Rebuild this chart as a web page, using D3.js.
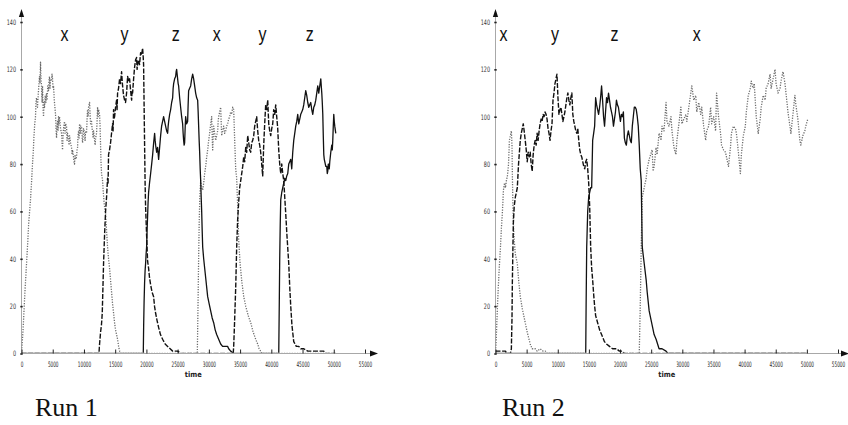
<!DOCTYPE html>
<html>
<head>
<meta charset="utf-8">
<script src="https://cdn.jsdelivr.net/npm/d3@7"></script>
<style>
  body { margin: 0; background: #fff; }
  svg { display: block; }
</style>
</head>
<body>
<svg id="chart" width="848" height="425"></svg>
<script>
// ---- axis ticks ----
const timeTicks = [0, 5000, 10000, 15000, 20000, 25000, 30000, 35000, 40000, 45000, 50000, 55000];
const countTicks = [0, 20, 40, 60, 80, 100, 120, 140];

// ---- phase labels (which species dominates), placed at a time ----
const run1PhaseNames = ["x", "y", "z", "x", "y", "z"];
const run1PhaseTimes = [6900, 16500, 24700, 31250, 38600, 46150];
const run2PhaseNames = ["x", "y", "z", "x"];
const run2PhaseTimes = [1270, 9550, 19100, 32300];

// ---- Run 1: population counts [time, count] ----
const run1X = [[0,0],[100,4],[250,10],[400,18],[550,26],[700,33],[850,40],[1000,47],[1150,55],[1300,60],[1440,65],[1600,72],[1760,80],[1900,86],[2000,92],[2120,97],[2240,100],[2320,106],[2400,108],[2560,104],[2720,111],[2880,117],[2960,114],[3045,123],[3120,116],[3200,113],[3300,106],[3365,113],[3450,104],[3525,100],[3600,106],[3685,104],[3800,109],[3900,106],[4005,110],[4100,107],[4200,113],[4325,111],[4400,115],[4485,117],[4560,112],[4650,116],[4810,115],[4890,118],[4970,116],[5050,112],[5130,113],[5250,107],[5350,104],[5450,101],[5530,95],[5610,91],[5690,96],[5770,98],[5850,94],[5930,100],[6010,97],[6090,100],[6250,95],[6410,93],[6490,89],[6570,86],[6650,92],[6730,95],[6890,98],[6970,93],[7050,97],[7210,96],[7300,90],[7370,93],[7530,91],[7620,88],[7700,92],[7850,89],[8010,87],[8100,84],[8170,86],[8330,83],[8400,81],[8490,80],[8570,84],[8650,82],[8810,83],[8900,86],[8975,87],[9050,92],[9135,94],[9215,91],[9295,97],[9400,93],[9455,96],[9615,96],[9700,92],[9775,89],[9850,91],[9930,95],[10095,93],[10180,90],[10250,94],[10415,93],[10500,99],[10575,103],[10650,100],[10740,104],[10900,106],[10980,101],[11060,97],[11220,98],[11300,95],[11380,94],[11460,91],[11540,94],[11700,90],[11800,88],[11860,91],[12020,93],[12100,98],[12180,104],[12260,100],[12340,103],[12500,101],[12580,96],[12660,88],[12740,80],[12820,76],[12980,73],[13100,68],[13220,64],[13340,61],[13460,59],[13620,52],[13780,45],[13940,40],[14100,36],[14260,31],[14420,26],[14580,21],[14745,17],[14900,13],[15060,10],[15220,8],[15385,6],[15550,3],[15705,1],[15900,0],
  [28150,0],[28250,18],[28350,38],[28450,55],[28550,66],[28690,73],[28850,70],[29010,69],[29170,72],[29330,76],[29490,79],[29650,83],[29810,86],[29970,90],[30130,93],[30290,97],[30450,100],[30530,92],[30610,86],[30690,91],[30770,96],[30930,93],[31090,90],[31250,92],[31410,94],[31490,98],[31570,100],[31730,102],[31890,104],[31970,98],[32050,92],[32210,94],[32370,96],[32530,93],[32690,94],[32850,96],[33010,97],[33170,99],[33330,100],[33490,102],[33650,101],[33815,104],[33975,103],[34135,90],[34295,78],[34455,74],[34615,62],[34775,48],[35000,38],[35250,31],[35580,24],[35900,20],[36300,16],[36700,13],[37100,9],[37500,6],[37820,4],[38050,2],[38300,1],[38500,0],[50300,0]];

const run1Y = [[0,0],[12400,0],[12500,4],[12660,9],[12800,12],[12930,17],[13040,28],[13140,38],[13300,50],[13460,60],[13620,66],[13780,74],[13860,72],[13940,84],[14100,86],[14260,89],[14420,93],[14580,97],[14660,94],[14745,103],[14820,99],[14905,100],[15060,104],[15225,107],[15300,103],[15385,110],[15540,112],[15705,116],[15860,114],[16025,119],[16100,116],[16185,113],[16340,109],[16505,107],[16660,106],[16825,110],[16990,117],[17150,115],[17310,116],[17470,111],[17630,107],[17710,111],[17790,110],[17950,116],[18110,121],[18270,124],[18430,125],[18510,120],[18590,122],[18750,124],[18900,122],[19070,127],[19230,126],[19390,129],[19470,126],[19550,122],[19630,105],[19710,88],[19790,72],[19870,62],[20030,50],[20190,39],[20350,36],[20500,32],[20675,29],[20900,26],[21155,24],[21300,20],[21475,17],[21700,14],[21955,11],[22250,8],[22595,6],[23000,4],[23400,3],[23800,2],[24200,1],[25000,1],[25500,0],
  [33900,0],[33975,3],[34100,12],[34300,28],[34455,45],[34600,56],[34775,64],[34935,70],[35100,73],[35260,76],[35420,79],[35580,83],[35740,81],[35900,87],[36060,85],[36220,92],[36380,89],[36540,86],[36700,85],[36860,89],[37020,90],[37180,92],[37340,96],[37500,98],[37660,100],[37820,94],[37980,90],[38140,88],[38300,85],[38460,80],[38620,75],[38780,88],[38940,97],[39100,105],[39260,103],[39425,107],[39585,97],[39745,94],[39905,92],[40065,95],[40225,97],[40385,103],[40545,101],[40705,105],[40865,100],[41025,95],[41185,86],[41345,80],[41510,76],[41670,80],[41830,76],[41990,73],[42150,66],[42310,59],[42500,50],[42790,38],[42950,28],[43110,20],[43300,12],[43590,5],[44000,3],[44390,3],[44710,2],[45200,2],[45835,1],[46500,1],[47115,1],[47800,1],[48400,1],[48720,0],[50300,0]];

const run1Z = [[0,0],[19500,0],[19560,12],[19630,22],[19710,30],[19790,35],[19870,38],[19950,42],[20030,45],[20110,52],[20190,58],[20270,64],[20350,68],[20500,72],[20675,76],[20840,80],[21000,84],[21160,89],[21315,93],[21400,90],[21475,88],[21640,85],[21795,87],[21955,82],[22115,87],[22275,92],[22435,96],[22595,98],[22755,100],[22915,98],[23075,96],[23240,94],[23400,93],[23480,96],[23560,98],[23720,101],[23880,103],[24040,106],[24200,108],[24280,112],[24360,114],[24520,116],[24680,117],[24760,119],[24840,120],[24920,118],[25000,116],[25080,114],[25160,113],[25320,108],[25480,104],[25640,100],[25800,97],[25880,93],[25960,90],[26040,88],[26120,89],[26200,95],[26280,100],[26440,97],[26600,98],[26680,105],[26760,111],[26920,112],[27085,113],[27245,116],[27405,118],[27485,117],[27565,116],[27725,113],[27885,110],[28045,108],[28205,107],[28285,102],[28365,96],[28445,90],[28525,85],[28610,78],[28690,73],[28770,66],[28850,60],[28930,52],[29010,45],[29170,40],[29330,36],[29570,30],[29810,24],[30050,21],[30290,18],[30530,15],[30770,13],[31010,10],[31250,8],[31570,6],[31890,4],[32200,3],[32690,3],[33000,3],[33175,2],[33495,1],[33975,0],
  [41190,0],[41270,20],[41345,40],[41430,55],[41510,65],[41670,68],[41830,70],[41990,72],[42150,74],[42310,73],[42470,75],[42630,76],[42790,80],[42950,81],[43110,82],[43270,78],[43430,85],[43590,90],[43750,93],[43910,96],[44070,98],[44230,101],[44390,97],[44550,99],[44710,101],[44870,102],[45030,103],[45190,105],[45350,108],[45510,111],[45670,109],[45835,106],[45995,104],[46155,105],[46315,106],[46475,103],[46635,101],[46795,104],[46955,105],[47115,107],[47275,110],[47435,113],[47595,110],[47760,113],[47920,116],[48000,113],[48080,110],[48160,106],[48240,101],[48320,92],[48400,84],[48480,82],[48560,81],[48720,79],[48880,79],[48960,76],[49040,77],[49120,80],[49200,80],[49280,78],[49360,81],[49520,85],[49680,88],[49760,86],[49840,90],[49920,96],[50000,101],[50080,98],[50160,96],[50320,93]];

// ---- Run 2: population counts [time, count] ----
const run2X = [[0,0],[100,5],[200,12],[318,20],[450,28],[600,36],[796,45],[950,53],[1114,60],[1274,69],[1450,72],[1600,70],[1750,73],[1910,75],[2070,79],[2150,84],[2230,90],[2390,92],[2547,94],[2650,88],[2706,76],[2800,62],[2866,55],[3000,48],[3184,42],[3502,38],[3750,30],[3980,24],[4298,19],[4776,13],[5094,9],[5572,4],[5890,2],[6368,2],[6686,1],[7164,2],[7642,1],[8000,1],[8300,0],
  [23084,0],[23243,20],[23402,45],[23562,66],[23880,70],[24198,74],[24357,78],[24676,82],[25154,86],[25313,77],[25472,79],[25790,87],[25950,84],[26268,93],[26586,90],[26746,96],[27064,94],[27382,106],[27542,98],[27860,96],[28178,100],[28338,94],[28656,87],[28974,84],[29134,90],[29452,97],[29770,104],[29930,97],[30248,99],[30566,101],[30726,98],[31044,104],[31362,110],[31522,113],[31840,107],[32158,109],[32318,102],[32636,106],[32954,101],[33114,104],[33432,96],[33750,90],[33910,94],[34228,96],[34546,104],[34706,97],[35024,100],[35342,94],[35502,110],[35820,100],[36138,93],[36298,88],[36616,86],[36934,85],[37412,79],[37730,87],[37890,93],[38208,96],[38527,95],[38686,93],[39004,85],[39322,76],[39482,84],[39800,92],[40118,96],[40278,102],[40596,109],[40914,112],[41074,115],[41392,112],[41550,114],[41710,107],[41870,100],[42188,93],[42506,99],[42666,104],[42984,109],[43302,107],[43462,112],[43780,114],[44098,118],[44258,112],[44576,116],[44894,120],[45054,114],[45372,110],[45690,112],[45850,115],[46168,119],[46486,114],[46646,110],[46964,102],[47282,96],[47442,93],[47760,101],[48078,109],[48238,105],[48556,99],[48874,90],[49034,88],[49352,92],[49670,94],[49830,96],[50150,99]];

const run2Y = [[0,1],[1600,1],[1800,0],[2400,0],[2547,2],[2650,15],[2706,30],[2800,45],[2866,55],[3000,62],[3184,66],[3350,68],[3502,70],[3700,80],[3980,90],[4140,93],[4298,95],[4458,97],[4600,94],[4776,90],[4935,86],[5094,81],[5250,85],[5400,83],[5572,85],[5730,80],[5890,77],[6050,84],[6210,88],[6368,90],[6527,88],[6686,93],[6845,90],[7005,94],[7164,97],[7323,99],[7482,98],[7642,101],[7800,100],[7960,102],[8120,101],[8278,99],[8438,95],[8597,93],[8756,90],[8915,94],[9074,97],[9234,107],[9393,110],[9552,114],[9711,116],[9870,118],[10030,108],[10190,101],[10350,103],[10507,104],[10667,101],[10826,98],[10985,100],[11144,102],[11303,105],[11462,108],[11622,110],[11781,107],[11940,105],[12099,108],[12258,110],[12418,101],[12577,98],[12736,96],[12895,94],[13054,93],[13214,95],[13373,90],[13532,86],[13691,84],[13850,83],[14010,81],[14169,79],[14328,78],[14487,81],[14646,82],[14806,78],[14965,72],[15124,62],[15283,45],[15442,36],[15602,31],[15761,25],[15920,20],[16080,16],[16398,13],[16716,10],[17034,8],[17194,7],[17500,5],[17830,4],[18308,3],[18800,2],[19422,2],[19900,1],[20378,1],[20700,0],[50150,0]];

const run2Z = [[0,0],[14400,0],[14487,0],[14550,20],[14646,45],[14806,60],[14965,66],[15124,68],[15283,70],[15442,70],[15602,90],[15761,93],[15920,96],[16080,108],[16238,105],[16398,103],[16557,101],[16716,104],[16875,108],[17034,113],[17194,107],[17353,100],[17512,96],[17671,102],[17830,108],[17990,106],[18149,110],[18308,107],[18467,104],[18626,102],[18786,100],[18945,96],[19104,99],[19263,102],[19422,107],[19582,105],[19741,104],[19900,101],[20059,98],[20218,101],[20378,100],[20537,102],[20696,91],[20855,89],[21014,88],[21173,92],[21333,94],[21492,92],[21651,90],[21810,89],[21970,96],[22129,100],[22288,104],[22447,104],[22606,103],[22765,100],[22925,96],[23084,88],[23243,78],[23402,73],[23562,45],[23880,38],[24198,31],[24357,26],[24676,18],[24994,14],[25154,12],[25472,8],[25790,6],[26268,2],[26746,2],[27382,1],[27700,0],[50150,0]];

// ---- layout ----
const svg = d3.select("#chart");
const axisY0 = 353.5, axisTop = 22;
const panels = [
  { title: "Run 1", titleX: 35, x0: 21.5, x1: 365, arrowTip: 378,
    series: { x: run1X, y: run1Y, z: run1Z }, phaseNames: run1PhaseNames, phaseTimes: run1PhaseTimes },
  { title: "Run 2", titleX: 502, x0: 495.5, x1: 838, arrowTip: 849,
    series: { x: run2X, y: run2Y, z: run2Z }, phaseNames: run2PhaseNames, phaseTimes: run2PhaseTimes }
];

const seriesStyle = {
  x: { stroke: "#6b6b6b", width: 1.3, dash: "1.2,1.4" },
  y: { stroke: "#111", width: 1.4, dash: "5,1.6" },
  z: { stroke: "#111", width: 1.3, dash: null }
};

const narrowFont = "'Liberation Sans Narrow','DejaVu Sans Condensed','Liberation Sans',sans-serif";

panels.forEach((p, i) => {
  const x = d3.scaleLinear().domain([0, 55000]).range([p.x0, p.x1]);
  const y = d3.scaleLinear().domain([0, 140]).range([axisY0, axisTop]);
  const g = svg.append("g");

  // clip so zero counts sit hidden under the axis
  const clipId = "clip" + i;
  svg.append("clipPath").attr("id", clipId)
    .append("rect").attr("x", p.x0).attr("y", 0)
    .attr("width", p.x1 - p.x0 + 10).attr("height", y(0) - 0.7);

  // axis lines with arrow heads
  g.append("line").attr("x1", p.x0).attr("x2", p.x0)
    .attr("y1", y(0)).attr("y2", 14)
    .attr("stroke", "#a8a8a8").attr("stroke-width", 1);
  g.append("path")
    .attr("d", `M${p.x0 - 2.6},${17} L${p.x0 + 2.6},${17} L${p.x0},${9} Z`)
    .attr("fill", "#111");
  g.append("line").attr("x1", p.x0).attr("x2", p.arrowTip - 5)
    .attr("y1", y(0)).attr("y2", y(0))
    .attr("stroke", "#a8a8a8").attr("stroke-width", 1);
  g.append("path")
    .attr("d", `M${p.arrowTip - 8},${y(0) - 3} L${p.arrowTip - 8},${y(0) + 3} L${p.arrowTip},${y(0)} Z`)
    .attr("fill", "#111");

  // bottom axis: short ticks pointing up, horizontally squeezed labels
  const ax = g.append("g").attr("transform", `translate(0,${y(0)})`)
    .call(d3.axisBottom(x).tickValues(timeTicks).tickFormat(d3.format("d"))
      .tickSizeInner(-4).tickSizeOuter(0).tickPadding(8));
  ax.select(".domain").remove();
  ax.selectAll(".tick line").attr("stroke", "#222").attr("stroke-width", 1);
  ax.selectAll(".tick text")
    .attr("font-family", narrowFont)
    .attr("font-size", 7.5).attr("fill", "#222")
    .attr("transform", "scale(0.62,1)");

  // left axis
  const ay = g.append("g").attr("transform", `translate(${p.x0},0)`)
    .call(d3.axisLeft(y).tickValues(countTicks).tickSizeInner(1.5).tickSizeOuter(0).tickPadding(4));
  ay.select(".domain").remove();
  ay.selectAll(".tick line").attr("stroke", "#222").attr("stroke-width", 1.6)
    .attr("x1", -1.2).attr("x2", 1.2);
  ay.selectAll(".tick text")
    .attr("font-family", narrowFont)
    .attr("font-size", 7.5).attr("fill", "#333")
    .attr("textLength", d => String(d).length * 3.1)
    .attr("lengthAdjust", "spacingAndGlyphs");

  // axis title
  g.append("text").attr("x", (p.x0 + p.x1) / 2).attr("y", y(0) + 23)
    .attr("text-anchor", "middle")
    .attr("font-family", "'DejaVu Sans','Liberation Sans',sans-serif")
    .attr("font-weight", "bold").attr("font-size", 7.5).attr("fill", "#222")
    .attr("textLength", 17).attr("lengthAdjust", "spacingAndGlyphs")
    .text("time");

  // population traces
  const line = d3.line().x(d => x(d[0])).y(d => y(d[1]));
  const traces = g.append("g").attr("clip-path", `url(#${clipId})`);
  ["x", "y", "z"].forEach(k => {
    const s = seriesStyle[k];
    traces.append("path").datum(p.series[k])
      .attr("d", line)
      .attr("fill", "none")
      .attr("stroke", s.stroke)
      .attr("stroke-width", s.width)
      .attr("stroke-linejoin", "round")
      .attr("stroke-dasharray", s.dash);
  });

  // dominant-species labels along the top
  p.phaseNames.forEach((name, j) => {
    g.append("text")
      .attr("transform", `translate(${x(p.phaseTimes[j])},41) scale(0.8,1)`)
      .attr("text-anchor", "middle")
      .attr("font-family", "'Liberation Sans',Arial,sans-serif")
      .attr("font-size", 20).attr("fill", "#111")
      .text(name);
  });

  // run caption
  g.append("text").attr("x", p.titleX).attr("y", 416)
    .attr("font-family", "'Liberation Serif','Times New Roman',serif")
    .attr("font-size", 26).attr("fill", "#111")
    .text(p.title);
});
</script>
</body>
</html>
